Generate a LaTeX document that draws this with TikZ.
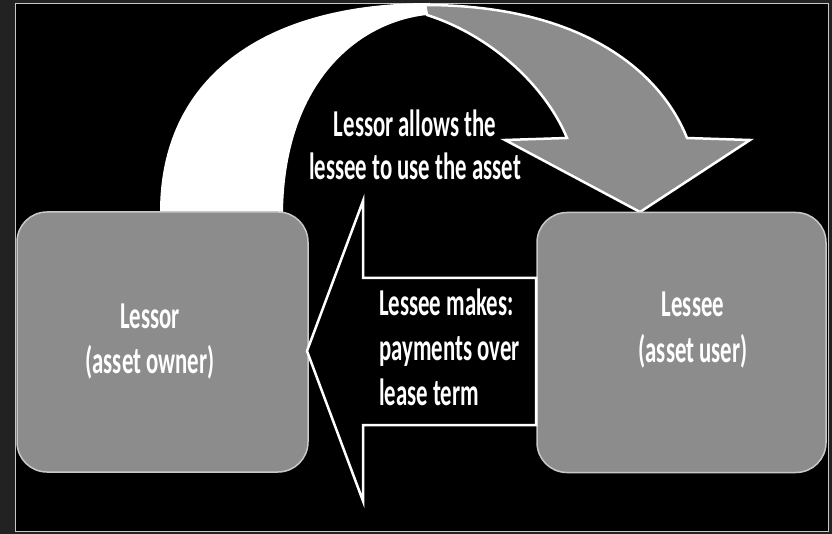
\documentclass[tikz,border=0pt]{standalone}
\usepackage{fontspec}
\newfontfamily\diagfont[FakeStretch=0.6]{Carlito}
\definecolor{framegray}{HTML}{222222}
\definecolor{boxgray}{HTML}{8C8C8C}
\definecolor{rimgray}{HTML}{C8C8C8}
\begin{document}
\begin{tikzpicture}[x=1pt,y=-1pt,
		box/.style={draw=rimgray, line width=1.5pt, fill=boxgray, rounded corners=30pt, minimum width=291pt, minimum height=260pt, inner sep=0pt},
		lbl/.style={text=white, font=\diagfont\bfseries\fontsize{38}{45}\selectfont, inner sep=0pt}]
			\useasboundingbox (0,0) rectangle (832,534);
			\fill[framegray] (0,0) rectangle (832,534);
			\filldraw[black, draw=rimgray] (15,3) rectangle (828,531);
			% back of the curved arrow
			\fill[white] (160,212) .. controls (160,80) and (260,3) .. (430,3) -- (427,15) .. controls (360,22) and (285,80) .. (283,212) -- cycle;
			% front of the curved arrow
			\filldraw[fill=boxgray, draw=white, line width=2.5pt] (427,15) .. controls (490,35) and (545,85) .. (567,138) -- (505,140) -- (640,212) -- (750,140) -- (687,138) .. controls (660,70) and (580,5) .. (425,5) -- cycle;
			\node[box] (lessor) at (162.5,342) {};
			\node[box, minimum width=289pt] (lessee) at (681.5,342.5) {};
			% payment arrow
			\filldraw[fill=black, draw=white, line width=2.5pt] (307,351) -- (363,201) -- (363,278) -- (536,278) -- (536,425) -- (363,425) -- (363,501) -- cycle;
			\node[lbl, align=center, anchor=base] (lessortext) at (150,373) {Lessor\\(asset owner)};
			\node[lbl, align=center, anchor=base] (lesseetext) at (693,362) {Lessee\\(asset user)};
			\node[lbl, align=center, anchor=base] (allowtext) at (415,180) {Lessor allows the\\[-2pt]lessee to use the asset};
			\node[lbl, align=left, anchor=base west] (paytext) at (379,405) {Lessee makes:\\payments over\\lease term};
		\end{tikzpicture}
\end{document}
